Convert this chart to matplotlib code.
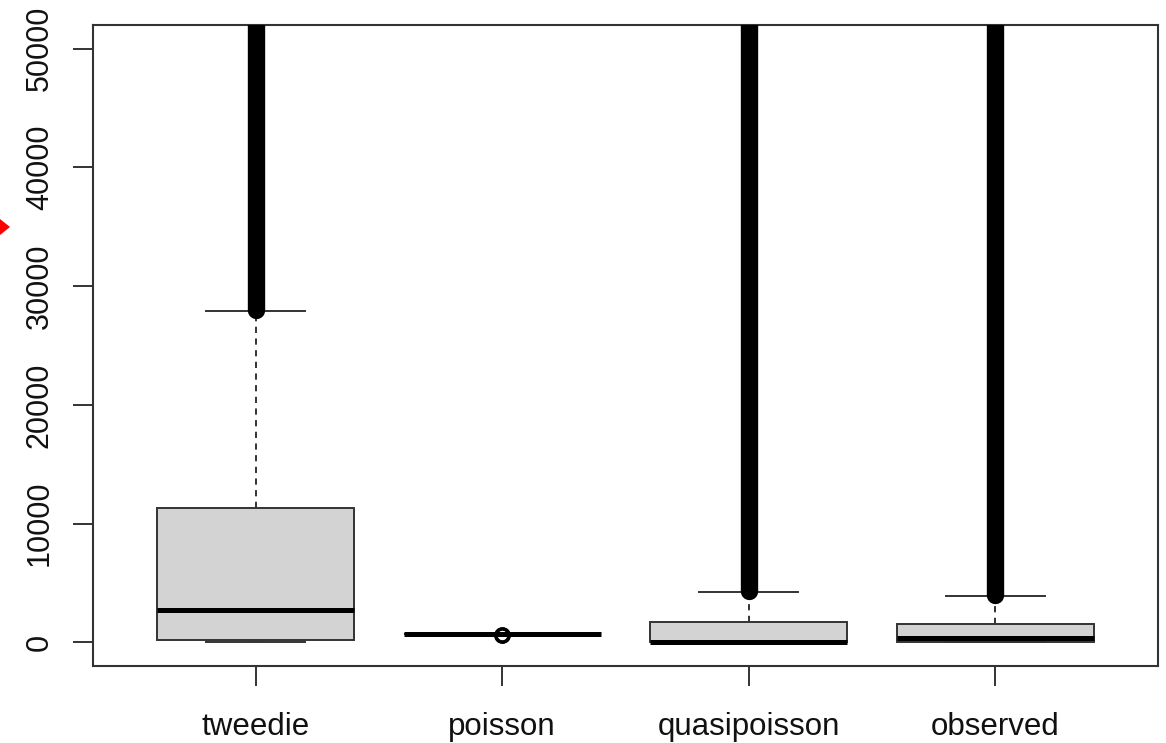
import matplotlib
matplotlib.use("Agg")
import matplotlib.pyplot as plt
from matplotlib.patches import Polygon

# ---- data ----
groups = ["tweedie", "poisson", "quasipoisson", "observed"]
whisker_low = [0, 680, 0, 0]
q1 = [230, 675, 0, 0]
median = [2680, 680, 40, 360]
q3 = [11340, 685, 1690, 1540]
whisker_high = [27900, 690, 4250, 3900]
# outliers: range covered by the (very dense) outlier circles
flier_low = [27950, 590, 4300, 3950]
flier_high = [60000, 640, 60000, 60000]
y_ticks = [0, 10000, 20000, 30000, 40000, 50000]
y_limits = (0, 50000)

# ---- figure ----
W, H, DPI = 1166, 743, 100
fig = plt.figure(figsize=(W / DPI, H / DPI), dpi=DPI)
ax = fig.add_axes([93 / W, 1 - 666 / H, (1158 - 93) / W, (666 - 25) / H])

FONT = "Liberation Sans"
EDGE = "#333333"
positions = list(range(1, len(groups) + 1))

stats = []
for i, g in enumerate(groups):
    stats.append(dict(label=g, whislo=whisker_low[i], q1=q1[i], med=median[i],
                      q3=q3[i], whishi=whisker_high[i], fliers=[]))

ax.bxp(stats, positions=positions, widths=0.8, capwidths=0.4, patch_artist=True,
       showfliers=False,
       boxprops=dict(facecolor="#d3d3d3", edgecolor=EDGE, linewidth=1.4),
       medianprops=dict(color="black", linewidth=3.6, solid_capstyle="butt"),
       whiskerprops=dict(color=EDGE, linewidth=1.4, linestyle=(0, (3.2, 2.8))),
       capprops=dict(color=EDGE, linewidth=1.4))

# outliers
for p, lo, hi in zip(positions, flier_low, flier_high):
    if hi - lo > 1000:
        ax.plot([p, p], [lo, hi], color="black", linewidth=12.5,
                solid_capstyle="round", zorder=4)
    else:
        ax.plot([p, p], [lo, hi], linestyle="none", marker="o", markersize=9.5,
                markerfacecolor="none", markeredgecolor="black",
                markeredgewidth=2.4, zorder=4)

# R-style axis ranges (4% expansion)
xr = (0.5, len(groups) + 0.5)
dx = 0.04 * (xr[1] - xr[0])
ax.set_xlim(xr[0] - dx, xr[1] + dx)
dy = 0.04 * (y_limits[1] - y_limits[0])
ax.set_ylim(y_limits[0] - dy, y_limits[1] + dy)

ax.set_xticks(positions)
ax.set_xticklabels(groups, fontfamily=FONT, fontsize=22.5, color="#111111")
ax.set_yticks(y_ticks)
ax.set_yticklabels([str(v) for v in y_ticks], fontfamily=FONT, fontsize=22,
                   rotation=90, va="center", color="#111111")

ax.tick_params(axis="both", direction="out", length=14.4, width=1.4, color=EDGE)
ax.tick_params(axis="x", pad=19)
ax.tick_params(axis="y", pad=13)
for s in ax.spines.values():
    s.set_color(EDGE)
    s.set_linewidth(1.5)

# small red pointer at the left edge (present in the reference screenshot)
fig.patches.append(Polygon([[0 / W, 1 - 219 / H], [10 / W, 1 - 227 / H], [0 / W, 1 - 235 / H]],
                           closed=True, transform=fig.transFigure,
                           facecolor="#ff0000", edgecolor="none"))

fig.savefig("out.png", dpi=DPI)
